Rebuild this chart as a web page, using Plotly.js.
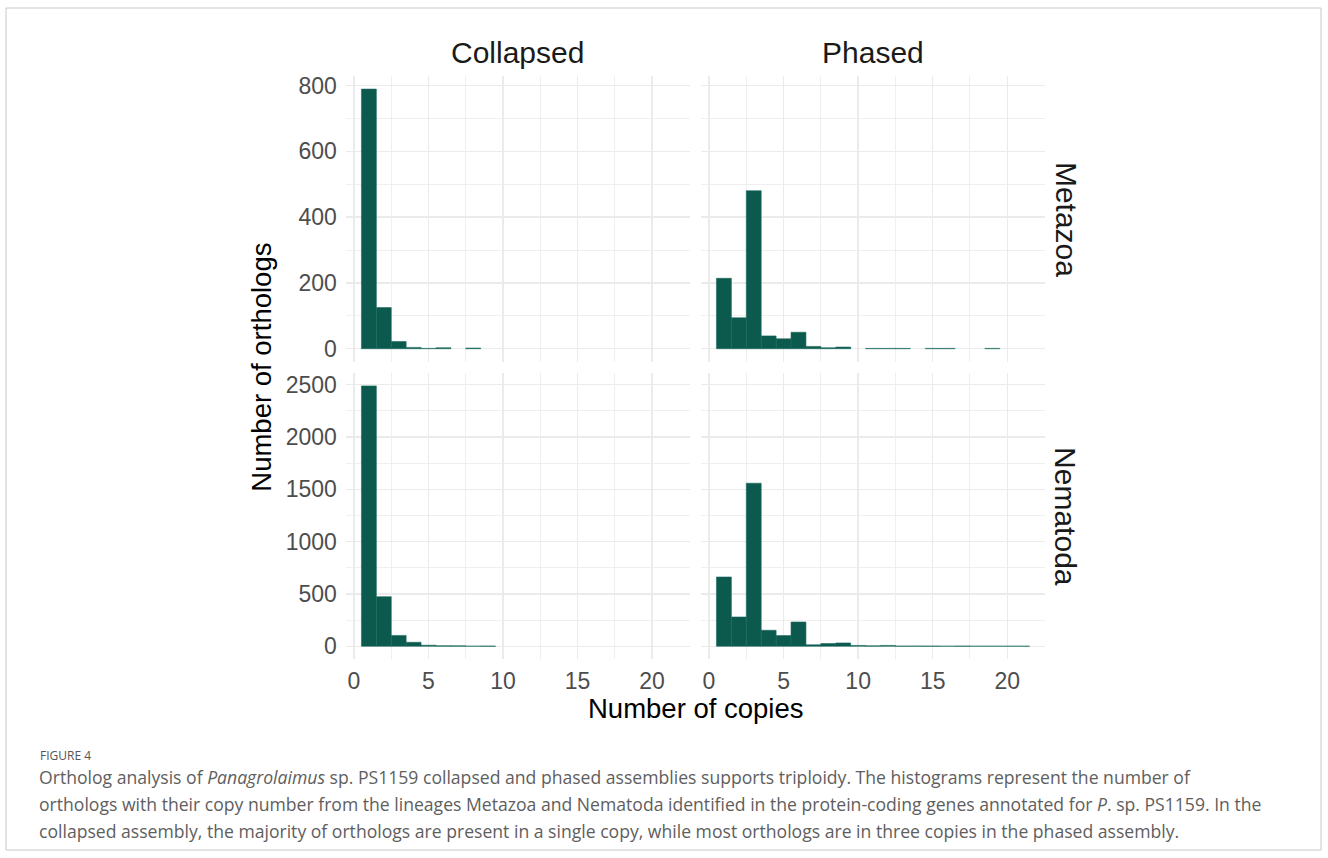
<!DOCTYPE html>
<html>
<head>
<meta charset="utf-8">
<script src="https://cdn.plot.ly/plotly-3.0.1.min.js"></script>
<style>
  html, body { margin: 0; padding: 0; background: #ffffff; }
  #chart { width: 1328px; height: 858px; }
</style>
</head>
<body>
<div id="chart"></div>
<script>
// ---- data ----
var copies = [1,2,3,4,5,6,7,8,9,10,11,12,13,14,15,16,17,18,19,20,21];
var collapsedMetazoa  = [789,125,22,4,1,3,0,2,0,0,0,0,0,0,0,0,0,0,0,0,0];
var phasedMetazoa     = [214,94,480,39,30,50,7,3,5,0,1,1,1,0,1,1,0,0,1,0,0];
var collapsedNematoda = [2488,474,104,38,10,5,4,1,2,0,0,0,0,0,0,0,0,0,0,0,0];
var phasedNematoda    = [662,280,1558,153,102,232,14,26,32,8,4,8,2,3,2,1,2,1,1,1,1];
var colLabels = ["Collapsed", "Phased"];
var rowLabels = ["Metazoa", "Nematoda"];
var xTicks = [0, 5, 10, 15, 20];
var yTicksTop = [0, 200, 400, 600, 800];
var yTicksBottom = [0, 500, 1000, 1500, 2000, 2500];
var xTitle = "Number of copies";
var yTitle = "Number of orthologs";
var figLabel = "FIGURE 4";
var captionLines = [
  "Ortholog analysis of <i>Panagrolaimus</i> sp. PS1159 collapsed and phased assemblies supports triploidy. The histograms represent the number of",
  "orthologs with their copy number from the lineages Metazoa and Nematoda identified in the protein-coding genes annotated for <i>P</i>. sp. PS1159. In the",
  "collapsed assembly, the majority of orthologs are present in a single copy, while most orthologs are in three copies in the phased assembly."
];

// ---- geometry helpers ----
var W = 1328, H = 858;
function px(x) { return x / W; }
function py(y) { return 1 - y / H; }

var barColor = "#0c5a4e";
var barLine = "#1a6a5e";

function barTrace(vals, xa, ya) {
  return {
    type: "bar", x: copies, y: vals, width: 1,
    xaxis: xa, yaxis: ya,
    marker: { color: barColor, line: { color: barLine, width: vals.map(function (v) { return v > 0 ? 0.6 : 0; }) } },
    hoverinfo: "x+y", showlegend: false
  };
}

var data = [
  barTrace(collapsedMetazoa, "x", "y"),
  barTrace(phasedMetazoa, "x2", "y2"),
  barTrace(collapsedNematoda, "x3", "y3"),
  barTrace(phasedNematoda, "x4", "y4")
];

var maxTop = Math.max.apply(null, collapsedMetazoa.concat(phasedMetazoa));
var maxBot = Math.max.apply(null, collapsedNematoda.concat(phasedNematoda));
var topRange = [-0.05 * maxTop, 1.05 * maxTop];
var botRange = [-0.05 * maxBot, 1.05 * maxBot];
var xRange = [-0.55, 22.55];

var gridC = "#ebebeb";
var tickFont = { family: "Liberation Sans, Arial, sans-serif", size: 23, color: "#4d4d4d" };

function xAxis(domain, anchor, showLabels) {
  return {
    domain: domain, anchor: anchor, range: xRange,
    tickmode: "array", tickvals: xTicks, ticktext: xTicks.map(String),
    showticklabels: showLabels, ticks: "", tickfont: tickFont,
    showgrid: true, gridcolor: gridC, gridwidth: 1.4,
    minor: { tickmode: "array", tickvals: [2.5, 7.5, 12.5, 17.5, 22.5], showgrid: true, gridcolor: gridC, gridwidth: 0.8 },
    zeroline: false, showline: false, fixedrange: true, ticklabelstandoff: 6
  };
}
function yAxis(domain, anchor, range, ticks, showLabels) {
  var step = ticks[1] - ticks[0];
  var minorVals = ticks.map(function (t) { return t + step / 2; });
  return {
    domain: domain, anchor: anchor, range: range,
    tickmode: "array", tickvals: ticks, ticktext: ticks.map(String),
    showticklabels: showLabels, ticks: "", tickfont: tickFont,
    showgrid: true, gridcolor: gridC, gridwidth: 1.4,
    minor: { tickmode: "array", tickvals: minorVals, showgrid: true, gridcolor: gridC, gridwidth: 0.8 },
    zeroline: false, showline: false, fixedrange: true, ticklabelstandoff: 8
  };
}

var xdL = [px(345.8), px(690)];
var xdR = [px(700.8), px(1045.3)];
var ydT = [py(361.7), py(76.1)];
var ydB = [py(659.3), py(372.9)];

var stripFont = { family: "Liberation Sans, Arial, sans-serif", size: 30, color: "#1a1a1a" };
var titleFont = { family: "Liberation Sans, Arial, sans-serif", size: 27.5, color: "#000000" };
var capFont = { family: "Open Sans, Noto Sans, sans-serif", size: 17.6, color: "#5e5e5e" };

var annotations = [
  { text: colLabels[0], x: (xdL[0] + xdL[1]) / 2, y: py(53), xref: "paper", yref: "paper", showarrow: false, font: stripFont, xanchor: "center", yanchor: "middle" },
  { text: colLabels[1], x: (xdR[0] + xdR[1]) / 2, y: py(53), xref: "paper", yref: "paper", showarrow: false, font: stripFont, xanchor: "center", yanchor: "middle" },
  { text: rowLabels[0], x: px(1066), y: (ydT[0] + ydT[1]) / 2, xref: "paper", yref: "paper", showarrow: false, font: stripFont, textangle: 90, xanchor: "center", yanchor: "middle" },
  { text: rowLabels[1], x: px(1066), y: (ydB[0] + ydB[1]) / 2, xref: "paper", yref: "paper", showarrow: false, font: stripFont, textangle: 90, xanchor: "center", yanchor: "middle" },
  { text: xTitle, x: (xdL[0] + xdR[1]) / 2, y: py(708), xref: "paper", yref: "paper", showarrow: false, font: titleFont, xanchor: "center", yanchor: "middle" },
  { text: yTitle, x: px(262), y: (ydB[0] + ydT[1]) / 2, xref: "paper", yref: "paper", showarrow: false, font: titleFont, textangle: -90, xanchor: "center", yanchor: "middle" },
  { text: figLabel, x: px(38), y: py(755), xref: "paper", yref: "paper", showarrow: false, font: { family: "Open Sans, Noto Sans, sans-serif", size: 12, color: "#555555" }, xanchor: "left", yanchor: "middle" }
];
var capY = [777, 804, 831];
captionLines.forEach(function (line, i) {
  annotations.push({ text: line, x: px(37), y: py(capY[i]), xref: "paper", yref: "paper", showarrow: false, font: capFont, xanchor: "left", yanchor: "middle", align: "left" });
});

var layout = {
  width: W, height: H,
  margin: { l: 0, r: 0, t: 0, b: 0 },
  paper_bgcolor: "#ffffff", plot_bgcolor: "rgba(0,0,0,0)",
  showlegend: false, bargap: 0,
  xaxis: xAxis(xdL, "y", false),
  yaxis: yAxis(ydT, "x", topRange, yTicksTop, true),
  xaxis2: xAxis(xdR, "y2", false),
  yaxis2: yAxis(ydT, "x2", topRange, yTicksTop, false),
  xaxis3: xAxis(xdL, "y3", true),
  yaxis3: yAxis(ydB, "x3", botRange, yTicksBottom, true),
  xaxis4: xAxis(xdR, "y4", true),
  yaxis4: yAxis(ydB, "x4", botRange, yTicksBottom, false),
  annotations: annotations,
  shapes: [
    { type: "rect", xref: "paper", yref: "paper", x0: px(6), x1: px(1321), y0: py(850), y1: py(8), line: { color: "#c8c8c8", width: 1 }, fillcolor: "rgba(0,0,0,0)", layer: "below" }
  ]
};

Plotly.newPlot("chart", data, layout, { displayModeBar: false, staticPlot: true });
</script>
</body>
</html>
